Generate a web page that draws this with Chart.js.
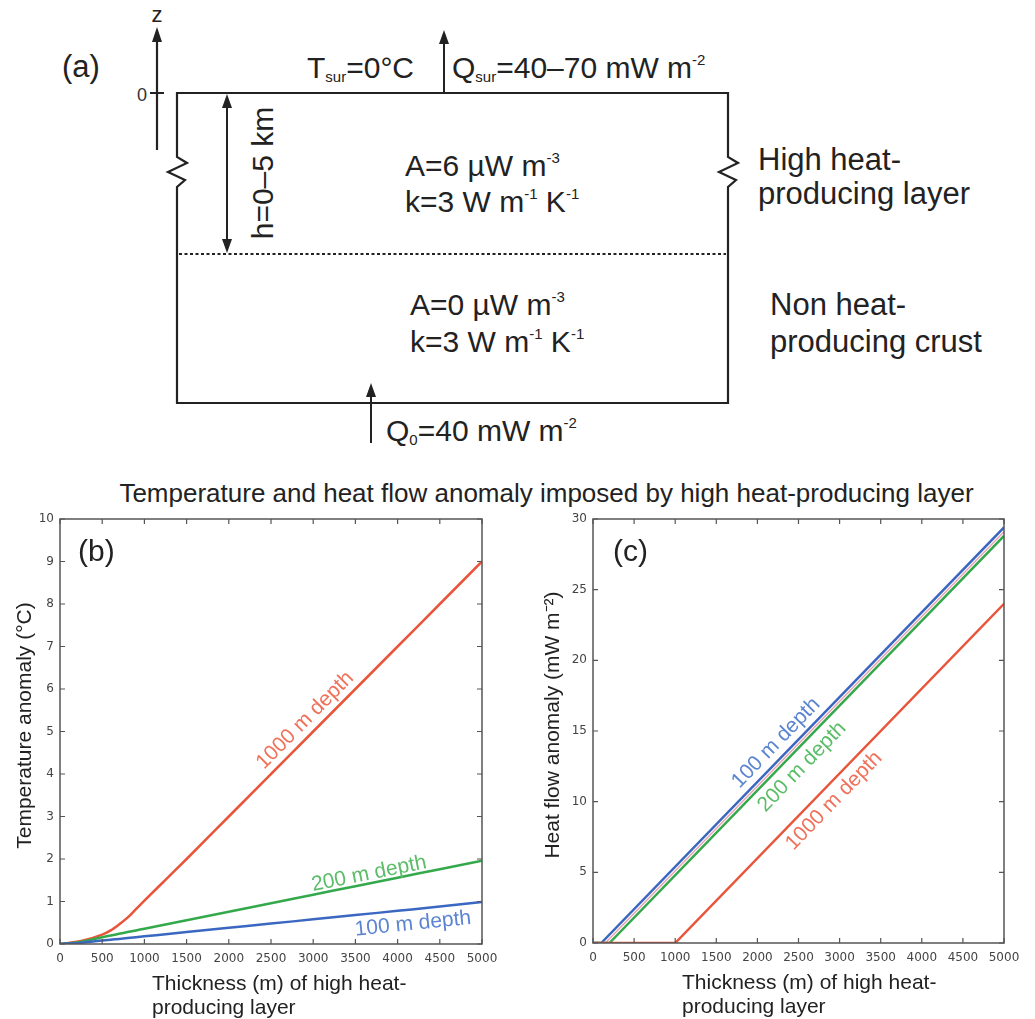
<!DOCTYPE html>
<html>
<head>
<meta charset="utf-8">
<script src="https://cdn.jsdelivr.net/npm/chart.js@4.4.1/dist/chart.umd.min.js"></script>
<style>
  body { margin: 0; background: #fff; }
  #page { position: relative; width: 1035px; height: 1019px; background: #fff; overflow: hidden; }
  #schematic { position: absolute; left: 0; top: 0; }
  #title { position: absolute; left: 58px; top: 478px; width: 977px; text-align: center;
    font: 26px "Liberation Sans", Arial, sans-serif; color: #222; }
  .panel { position: absolute; top: 505px; height: 514px; }
</style>
</head>
<body>
<div id="page">
  <!-- (a) schematic of the model -->
  <svg id="schematic" width="1035" height="470" font-family="Liberation Sans, Arial, sans-serif" fill="#222">
    <text x="62" y="77" font-size="31">(a)</text>

    <!-- z axis -->
    <line x1="157" y1="150" x2="157" y2="40" stroke="#222" stroke-width="2.2"/>
    <polygon points="157,27 152,42 162,42"/>
    <text x="157" y="22" font-size="22" text-anchor="middle">z</text>
    <line x1="150" y1="93" x2="164" y2="93" stroke="#222" stroke-width="2"/>
    <text x="147" y="101" font-size="18" text-anchor="end" fill="#333">0</text>

    <!-- box with broken sides -->
    <path d="M177,93 H728 V157 L738,163 L719,172 L736,180 L728,187 V403 H177 V187 L185,180 L168,172 L187,163 L177,157 Z"
          fill="none" stroke="#222" stroke-width="2.2" stroke-linejoin="miter"/>
    <line x1="179" y1="254" x2="726" y2="254" stroke="#222" stroke-width="2" stroke-dasharray="3 2.5"/>

    <!-- h arrow -->
    <line x1="227" y1="104" x2="227" y2="243" stroke="#222" stroke-width="2"/>
    <polygon points="227,94 222,108 232,108"/>
    <polygon points="227,253 222,239 232,239"/>
    <text x="262" y="173" font-size="30" text-anchor="middle" dominant-baseline="central"
          transform="rotate(-90 262 173)">h=0–5 km</text>

    <!-- surface -->
    <line x1="444" y1="93" x2="444" y2="42" stroke="#222" stroke-width="2"/>
    <polygon points="444,30 439,44 449,44"/>
    <text x="307" y="78" font-size="30">T<tspan font-size="15" dy="4">sur</tspan><tspan dy="-4">=0°C</tspan></text>
    <text x="452" y="78" font-size="30">Q<tspan font-size="15" dy="4">sur</tspan><tspan dy="-4">=40–70 mW m</tspan><tspan font-size="15" dy="-13">-2</tspan></text>

    <!-- upper layer -->
    <text x="405" y="176" font-size="30">A=6 µW m<tspan font-size="15" dy="-13">-3</tspan></text>
    <text x="405" y="212" font-size="30">k=3 W m<tspan font-size="15" dy="-13">-1</tspan><tspan dy="13"> K</tspan><tspan font-size="15" dy="-13">-1</tspan></text>
    <text x="758" y="170" font-size="31">High heat-</text>
    <text x="758" y="204" font-size="31">producing layer</text>

    <!-- lower crust -->
    <text x="410" y="315" font-size="30">A=0 µW m<tspan font-size="15" dy="-13">-3</tspan></text>
    <text x="410" y="352" font-size="30">k=3 W m<tspan font-size="15" dy="-13">-1</tspan><tspan dy="13"> K</tspan><tspan font-size="15" dy="-13">-1</tspan></text>
    <text x="770" y="315" font-size="31">Non heat-</text>
    <text x="770" y="352" font-size="31">producing crust</text>

    <!-- basal heat flow -->
    <line x1="371" y1="443" x2="371" y2="395" stroke="#222" stroke-width="2"/>
    <polygon points="371,383 366,397 376,397"/>
    <text x="386" y="441" font-size="30">Q<tspan font-size="15" dy="4">0</tspan><tspan dy="-4">=40 mW m</tspan><tspan font-size="15" dy="-13">-2</tspan></text>
  </svg>

  <div id="title">Temperature and heat flow anomaly imposed by high heat-producing layer</div>

  <div class="panel" style="left:0;width:517px"><canvas id="tempChart" width="517" height="514"></canvas></div>
  <div class="panel" style="left:517px;width:518px"><canvas id="flowChart" width="518" height="514"></canvas></div>
</div>

<script>
// ---- data ----
// (b) temperature anomaly (°C) vs layer thickness (m)
const thickness = [0, 250, 500, 600, 700, 800, 900, 1000, 1250, 1500, 2000, 2500, 3000, 3500, 4000, 4500, 5000];
const temp1000 = [0, 0.07, 0.22, 0.32, 0.46, 0.62, 0.82, 1.02, 1.51, 2.0, 3.0, 4.0, 5.0, 6.0, 7.0, 8.0, 9.0];
const temp200 = [0, 0.05, 0.16, 0.2, 0.24, 0.28, 0.32, 0.36, 0.46, 0.56, 0.76, 0.96, 1.16, 1.36, 1.56, 1.76, 1.96];
const temp100 = [0, 0.03, 0.08, 0.1, 0.12, 0.14, 0.16, 0.18, 0.23, 0.28, 0.38, 0.48, 0.58, 0.68, 0.78, 0.88, 0.99];

// (c) heat flow anomaly (mW m-2): zero until the layer reaches the depth, then straight
const flowX100 = [0, 100, 5000];
const flow100 = [0, 0, 29.4];
const flowX150 = [0, 150, 5000];
const flow150 = [0, 0, 29.1];
const flowX200 = [0, 200, 5000];
const flow200 = [0, 0, 28.8];
const flowX1000 = [0, 1000, 5000];
const flow1000 = [0, 0, 24];

const xTicks = [0, 500, 1000, 1500, 2000, 2500, 3000, 3500, 4000, 4500, 5000];
const tempTicks = [0, 1, 2, 3, 4, 5, 6, 7, 8, 9, 10];
const flowTicks = [0, 5, 10, 15, 20, 25, 30];

const RED = "#e9553b", GREEN = "#33a94b", BLUE = "#3a67c2", PINK = "#e9a3b3";
const FONT = "'Liberation Sans', Arial, sans-serif";

const pairs = (xs, ys) => xs.map((x, i) => ({ x, y: ys[i] }));

// box with inward ticks on all four sides, MATLAB style
const framePlugin = {
  id: "frame",
  afterDraw(chart) {
    const { ctx, chartArea: a, scales } = chart;
    ctx.save();
    ctx.strokeStyle = "#555";
    ctx.lineWidth = 1.5;
    ctx.strokeRect(a.left, a.top, a.right - a.left, a.bottom - a.top);
    ctx.lineWidth = 1.2;
    ctx.beginPath();
    scales.x.ticks.forEach((t) => {
      const px = scales.x.getPixelForValue(t.value);
      ctx.moveTo(px, a.bottom); ctx.lineTo(px, a.bottom - 5);
      ctx.moveTo(px, a.top); ctx.lineTo(px, a.top + 5);
    });
    scales.y.ticks.forEach((t) => {
      const py = scales.y.getPixelForValue(t.value);
      ctx.moveTo(a.left, py); ctx.lineTo(a.left + 5, py);
      ctx.moveTo(a.right, py); ctx.lineTo(a.right - 5, py);
    });
    ctx.stroke();
    ctx.restore();
  },
};

// panel letter, axis titles and the rotated line labels
const textPlugin = {
  id: "panelText",
  afterDraw(chart, args, opts) {
    const { ctx, chartArea: a, scales } = chart;
    ctx.save();
    ctx.fillStyle = "#222";
    ctx.font = `30px ${FONT}`;
    ctx.textBaseline = "alphabetic";
    ctx.fillText(opts.letter, a.left + opts.letterDx, a.top + 42);

    ctx.font = `21px ${FONT}`;
    ctx.textAlign = "left";
    ctx.fillText(opts.xTitle[0], a.left + opts.xTitleDx, a.bottom + 46);
    ctx.fillText(opts.xTitle[1], a.left + opts.xTitleDx, a.bottom + 70);

    ctx.save();
    ctx.translate(a.left - opts.yTitleDx, (a.top + a.bottom) / 2 - 6);
    ctx.rotate(-Math.PI / 2);
    ctx.textAlign = "center";
    ctx.textBaseline = "middle";
    ctx.fillText(opts.yTitle, 0, 0);
    ctx.restore();

    ctx.font = `21px ${FONT}`;
    opts.labels.forEach((l) => {
      const x1 = scales.x.getPixelForValue(l.from[0]), y1 = scales.y.getPixelForValue(l.from[1]);
      const x2 = scales.x.getPixelForValue(l.to[0]), y2 = scales.y.getPixelForValue(l.to[1]);
      ctx.save();
      ctx.translate(scales.x.getPixelForValue(l.at[0]), scales.y.getPixelForValue(l.at[1]));
      ctx.rotate(Math.atan2(y2 - y1, x2 - x1));
      ctx.fillStyle = l.color;
      ctx.textAlign = "center";
      ctx.textBaseline = "middle";
      ctx.fillText(l.text, 0, 0);
      ctx.restore();
    });
    ctx.restore();
  },
};

function axisOptions(ticks, pad) {
  return {
    type: "linear",
    min: ticks[0],
    max: ticks[ticks.length - 1],
    afterBuildTicks: (s) => { s.ticks = ticks.map((v) => ({ value: v })); },
    grid: { display: false, drawTicks: false },
    border: { display: false },
    ticks: {
      color: "#444",
      font: { family: "'DejaVu Sans', sans-serif", size: 12 },
      padding: pad,
      maxRotation: 0,
      autoSkip: false,
      callback: (v) => String(v),
    },
  };
}

document.addEventListener("DOMContentLoaded", () => {
  /* (b) temperature anomaly ------------------------------ */
  const tempCtx = document.getElementById("tempChart").getContext("2d");
  const tx = axisOptions(xTicks, 8);
  tx.afterFit = (s) => { s.height = 75; };
  const ty = axisOptions(tempTicks, 6);
  ty.afterFit = (s) => { s.width = 60; };

  new Chart(tempCtx, {
    type: "line",
    data: {
      datasets: [
        { label: "100 m depth", data: pairs(thickness, temp100), borderColor: BLUE },
        { label: "200 m depth", data: pairs(thickness, temp200), borderColor: GREEN },
        { label: "1000 m depth", data: pairs(thickness, temp1000), borderColor: RED },
      ],
    },
    options: {
      responsive: false,
      animation: false,
      parsing: false,
      layout: { padding: { top: 14, right: 35, left: 0, bottom: 0 } },
      elements: { point: { radius: 0 }, line: { borderWidth: 2.5, cubicInterpolationMode: "monotone" } },
      scales: { x: tx, y: ty },
      plugins: {
        legend: { display: false },
        tooltip: { enabled: false },
        panelText: {
          letter: "(b)",
          letterDx: 18,
          xTitle: ["Thickness (m) of high heat-", "producing layer"],
          xTitleDx: 92,
          yTitle: "Temperature anomaly (°C)",
          yTitleDx: 35,
          labels: [
            { text: "1000 m depth", color: "#f0715a", at: [2903, 5.26], from: [2000, 3.0], to: [5000, 9.0] },
            { text: "200 m depth", color: "#5cbd68", at: [3661, 1.65], from: [1000, 0.36], to: [5000, 1.96] },
            { text: "100 m depth", color: "#5b84d1", at: [4182, 0.47], from: [1000, 0.18], to: [5000, 0.99] },
          ],
        },
      },
    },
    plugins: [framePlugin, textPlugin],
  });

  /* (c) heat flow anomaly -------------------------------- */
  const flowCtx = document.getElementById("flowChart").getContext("2d");
  const fx = axisOptions(xTicks, 8);
  fx.afterFit = (s) => { s.height = 76; };
  const fy = axisOptions(flowTicks, 6);
  fy.afterFit = (s) => { s.width = 76; };

  new Chart(flowCtx, {
    type: "line",
    data: {
      datasets: [
        { label: "1000 m depth", data: pairs(flowX1000, flow1000), borderColor: RED },
        { label: "200 m depth", data: pairs(flowX200, flow200), borderColor: GREEN },
        { label: "150 m depth", data: pairs(flowX150, flow150), borderColor: PINK, borderWidth: 1.5 },
        { label: "100 m depth", data: pairs(flowX100, flow100), borderColor: BLUE },
      ],
    },
    options: {
      responsive: false,
      animation: false,
      parsing: false,
      layout: { padding: { top: 14, right: 31, left: 0, bottom: 0 } },
      elements: { point: { radius: 0 }, line: { borderWidth: 2.5 } },
      scales: { x: fx, y: fy },
      plugins: {
        legend: { display: false },
        tooltip: { enabled: false },
        panelText: {
          letter: "(c)",
          letterDx: 20,
          xTitle: ["Thickness (m) of high heat-", "producing layer"],
          xTitleDx: 89,
          yTitle: "Heat flow anomaly (mW m⁻²)",
          yTitleDx: 40,
          labels: [
            { text: "100 m depth", color: "#5b84d1", at: [2226, 14.15], from: [100, 0], to: [5000, 29.4] },
            { text: "200 m depth", color: "#5cbd68", at: [2543, 12.46], from: [200, 0], to: [5000, 28.8] },
            { text: "1000 m depth", color: "#f0715a", at: [2932, 10.05], from: [1000, 0], to: [5000, 24] },
          ],
        },
      },
    },
    plugins: [framePlugin, textPlugin],
  });
});
</script>
</body>
</html>
